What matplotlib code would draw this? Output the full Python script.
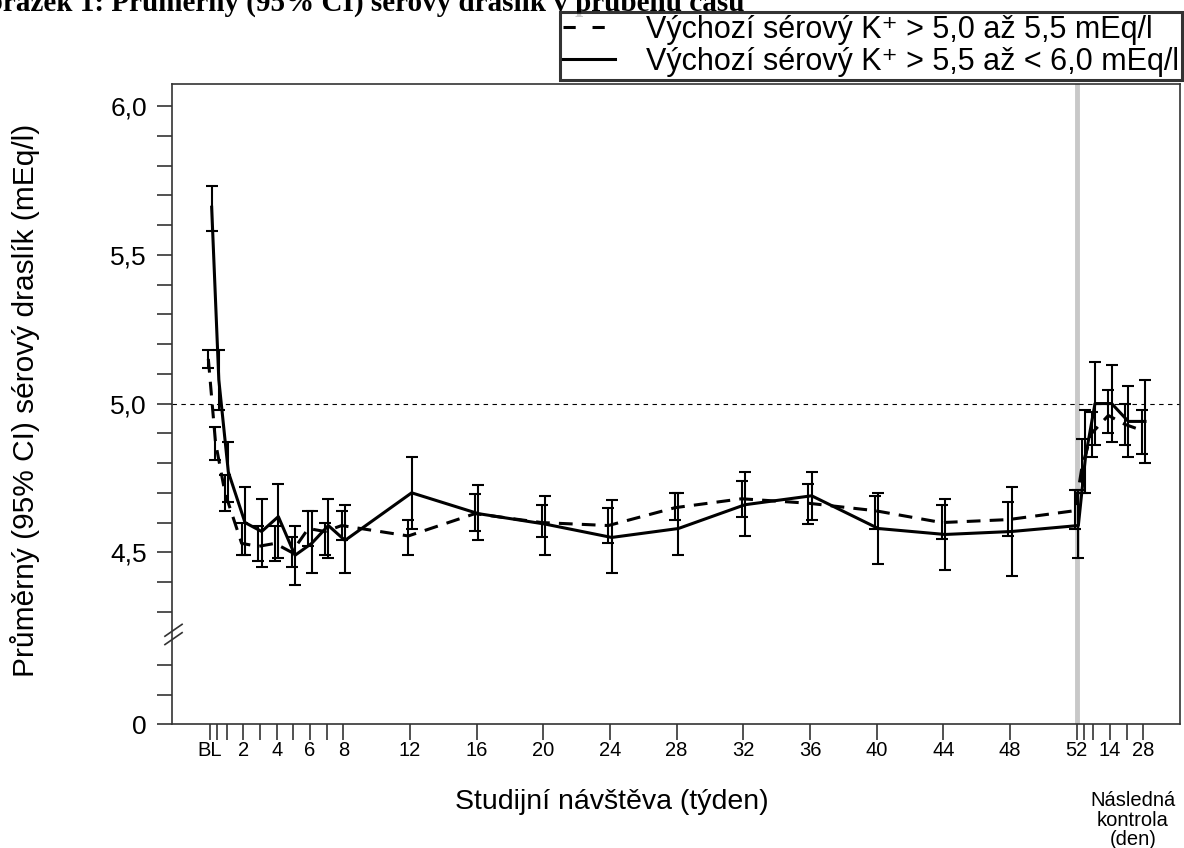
import matplotlib.pyplot as plt
from matplotlib.lines import Line2D

plt.rcParams['font.family'] = ['Liberation Sans', 'DejaVu Sans']

# Visit positions in weeks (follow-up days 3, 7, 14, 21, 28 placed after week 52)
visits = [0, 3/7, 1, 2, 3, 4, 5, 6, 7, 8, 12, 16, 20, 24, 28, 32, 36, 40, 44, 48, 52,
          52 + 3/7, 53, 54, 55, 56]

# Baseline K+ > 5.0 to 5.5 mEq/l (dashed)
mean_low = [5.15, 4.87, 4.70, 4.53, 4.52, 4.53, 4.50, 4.58, 4.57, 4.59, 4.555, 4.63, 4.60,
            4.59, 4.65, 4.68, 4.665, 4.64, 4.60, 4.61, 4.64, 4.79, 4.90, 4.96, 4.93, 4.91]
lo_low = [5.12, 4.81, 4.64, 4.49, 4.47, 4.47, 4.45, 4.52, 4.49, 4.54, 4.49, 4.57, 4.55,
          4.53, 4.61, 4.62, 4.595, 4.58, 4.545, 4.555, 4.58, 4.70, 4.82, 4.90, 4.86, 4.83]
hi_low = [5.18, 4.92, 4.76, 4.60, 4.59, 4.59, 4.55, 4.64, 4.60, 4.64, 4.61, 4.695, 4.66,
          4.65, 4.70, 4.74, 4.73, 4.69, 4.66, 4.67, 4.71, 4.88, 4.97, 5.045, 5.00, 4.98]

# Baseline K+ > 5.5 to < 6.0 mEq/l (solid)
mean_high = [5.66, 5.08, 4.77, 4.60, 4.57, 4.62, 4.49, 4.53, 4.59, 4.54, 4.70, 4.63, 4.595,
             4.55, 4.58, 4.66, 4.69, 4.58, 4.56, 4.57, 4.59, 4.82, 5.00, 5.00, 4.94, 4.94]
lo_high = [5.58, 4.98, 4.67, 4.49, 4.45, 4.48, 4.39, 4.43, 4.48, 4.43, 4.58, 4.54, 4.49,
           4.43, 4.49, 4.555, 4.61, 4.46, 4.44, 4.42, 4.48, 4.70, 4.86, 4.87, 4.82, 4.80]
hi_high = [5.73, 5.18, 4.87, 4.72, 4.68, 4.73, 4.59, 4.64, 4.68, 4.66, 4.82, 4.725, 4.69,
           4.675, 4.70, 4.77, 4.77, 4.70, 4.68, 4.72, 4.71, 4.98, 5.14, 5.13, 5.06, 5.08]

labels = ['Výchozí sérový K\u207a > 5,0 až 5,5 mEq/l',
          'Výchozí sérový K\u207a > 5,5 až < 6,0 mEq/l']

xtick_pos = [0, 3/7, 1, 2, 3, 4, 5, 6, 7, 8, 12, 16, 20, 24, 28, 32, 36, 40, 44, 48, 52,
             52 + 3/7, 53, 54, 55, 56]
xtick_lab = ['BL', '', '', '2', '', '4', '', '6', '', '8', '12', '16', '20', '24', '28',
             '32', '36', '40', '44', '48', '52', '', '', '14', '', '28']

# y axis is broken: the "0" tick sits just below 4.3 on a compressed scale
y_zero = 3.923
ytick_pos = [y_zero, 4.02, 4.12, 4.3, 4.4, 4.5, 4.6, 4.7, 4.8, 4.9, 5.0, 5.1, 5.2, 5.3,
             5.4, 5.5, 5.6, 5.7, 5.8, 5.9, 6.0]
ytick_lab = ['0', '', '', '', '', '4,5', '', '', '', '', '5,0', '', '', '', '', '5,5',
             '', '', '', '', '6,0']

fig = plt.figure(figsize=(11.84, 8.48), dpi=100)
ax = fig.add_axes([172/1184, 1 - 724/848, 1008/1184, 640/848])

ax.axvline(52, color='#c8c8c8', lw=3.5, zorder=0)
ax.axhline(5.0, color='black', lw=0.8, ls=(0, (4, 4)), zorder=1)

off = 0.1
x_low = [v - off for v in visits]
x_high = [v + off for v in visits]

ax.errorbar(x_low, mean_low,
            yerr=[[m - l for m, l in zip(mean_low, lo_low)],
                  [h - m for m, h in zip(mean_low, hi_low)]],
            fmt='none', ecolor='black', elinewidth=1.5, capsize=4, capthick=1.5, zorder=2)
ax.errorbar(x_high, mean_high,
            yerr=[[m - l for m, l in zip(mean_high, lo_high)],
                  [h - m for m, h in zip(mean_high, hi_high)]],
            fmt='none', ecolor='black', elinewidth=1.5, capsize=4, capthick=1.5, zorder=2)
ax.plot(x_low, mean_low, color='black', lw=2.2, ls=(0, (4.5, 3)), zorder=3)
ax.plot(x_high, mean_high, color='black', lw=2.2, zorder=3)

ax.set_xlim(-2.28, 58.2)
ax.set_ylim(y_zero, 6.074)
ax.set_xticks(xtick_pos)
ax.set_xticklabels(xtick_lab)
ax.set_yticks(ytick_pos)
ax.set_yticklabels(ytick_lab)
ax.tick_params(axis='y', length=11, width=1.2, pad=7, labelsize=19, color='#333333')
ax.tick_params(axis='x', length=11.5, width=1.2, pad=1, labelsize=14.5, color='#333333')
for s in ax.spines.values():
    s.set_color('#333333')
    s.set_linewidth(1.2)

# axis break marks on the left spine
tr = ax.get_yaxis_transform()
for dy in (0.0, 0.028):
    ax.plot([-0.007, 0.010], [4.19 + dy, 4.23 + dy], color='#333333', lw=1.2,
            transform=tr, clip_on=False)

handles = [Line2D([], [], color='black', lw=2.2, ls=(0, (4, 5.5))),
           Line2D([], [], color='black', lw=2.2)]
leg = fig.legend(handles, labels, loc='upper right',
                 bbox_to_anchor=(1182/1184, 1 - 12/848), fontsize=22, frameon=True,
                 fancybox=False, edgecolor='black', borderpad=0.1, labelspacing=0.05,
                 handlelength=1.7, handletextpad=1.0, borderaxespad=0)
leg.get_frame().set_linewidth(2.2)

fig.text(-36/1184, 1 - 11/848, 'Obrázek 1: Průměrný (95% CI) sérový draslík v průběhu času',
         fontfamily='Liberation Serif', fontweight='bold', fontsize=21,
         ha='left', va='baseline')
fig.text(612/1184, 1 - 802/848, 'Studijní návštěva (týden)', ha='center', va='center',
         fontsize=20.5)
fig.text(25/1184, 1 - 400/848, 'Průměrný (95% CI) sérový draslík (mEq/l)', rotation=90,
         ha='center', va='center', fontsize=21.5)
fig.text(1133/1184, 1 - 820/848, 'Následná\nkontrola\n(den)', ha='center', va='center',
         fontsize=14.5, linespacing=1.05)

fig.savefig('out.png', dpi=100)
